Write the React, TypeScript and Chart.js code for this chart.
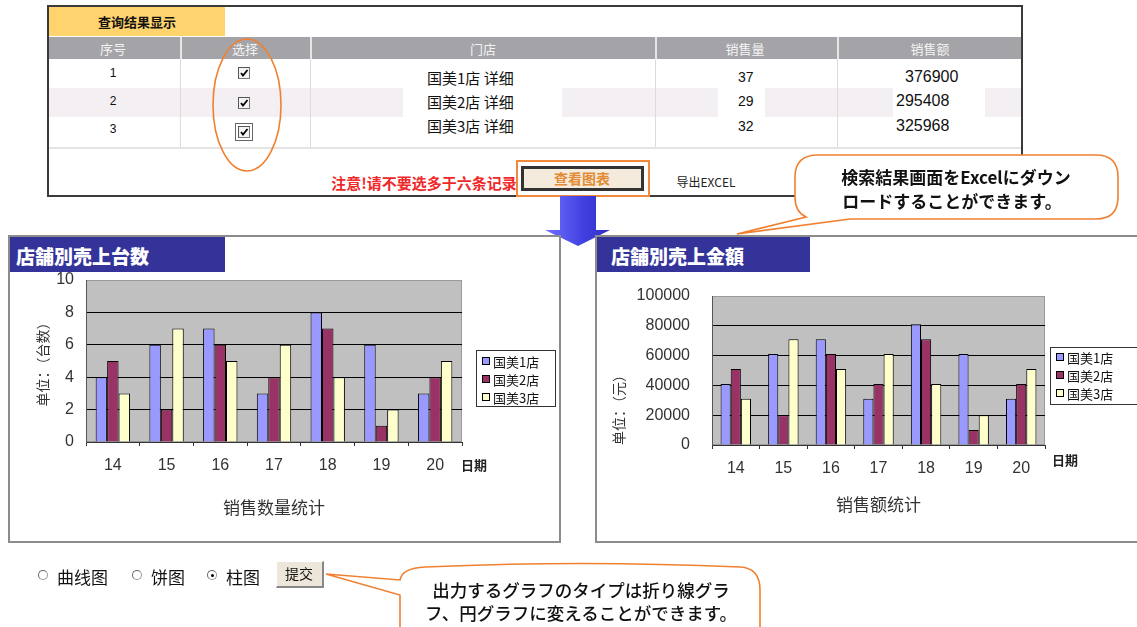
import React, { useEffect, useRef } from "react";
import { Chart, registerables } from "chart.js";
Chart.register(...registerables);

// ---------- data ----------
const DATES = ["14", "15", "16", "17", "18", "19", "20"];
const STORES = ["国美1店", "国美2店", "国美3店"];
const QTY_STORE1 = [4, 6, 7, 3, 8, 6, 3];
const QTY_STORE2 = [5, 2, 6, 4, 7, 1, 4];
const QTY_STORE3 = [3, 7, 5, 6, 4, 2, 5];
const AMT_STORE1 = [41000, 61000, 71000, 31000, 81000, 61000, 31000];
const AMT_STORE2 = [51000, 20000, 61000, 41000, 71000, 10000, 41000];
const AMT_STORE3 = [31000, 71000, 51000, 61000, 41000, 20000, 51000];
const BAR_COLORS = ["#9999FF", "#993366", "#FFFFCC"];

const TABLE_NO = ["1", "2", "3"];
const TABLE_STORE = ["国美1店 详细", "国美2店 详细", "国美3店 详细"];
const TABLE_QTY = ["37", "29", "32"];
const TABLE_AMT = ["376900", "295408", "325968"];
const TABLE_HEADERS = ["序号", "选择", "门店", "销售量", "销售额"];
const CHART_TYPES = ["曲线图", "饼图", "柱图"];

const CJK = '"Noto Sans CJK SC", "Noto Sans CJK JP", sans-serif';
const JP = '"Noto Sans CJK JP", "Noto Sans CJK SC", sans-serif';

// ---------- chart plugin: plot background, border, legend, 日期 ----------
const excelDeco = {
  id: "excelDeco",
  beforeDraw(chart: any) {
    const { ctx, chartArea: a } = chart;
    ctx.save();
    ctx.fillStyle = "#C0C0C0";
    ctx.fillRect(a.left, a.top, a.right - a.left, a.bottom - a.top);
    ctx.strokeStyle = "#9a9a9a";
    ctx.lineWidth = 1;
    ctx.strokeRect(a.left + 0.5, a.top + 0.5, a.right - a.left - 1, a.bottom - a.top - 1);
    ctx.restore();
  },
  afterDraw(chart: any, _args: any, opts: any) {
    const { ctx, chartArea: a } = chart;
    ctx.save();
    const lx = a.right + opts.legend.dx;
    const ly = a.top + opts.legend.dy;
    const lw = opts.legend.w;
    const lh = opts.legend.h;
    ctx.fillStyle = "#fff";
    ctx.fillRect(lx, ly, lw, lh);
    ctx.strokeStyle = "#333";
    ctx.lineWidth = 1;
    ctx.strokeRect(lx + 0.5, ly + 0.5, lw, lh);
    ctx.font = '13px "Noto Sans CJK SC"';
    ctx.textBaseline = "middle";
    ctx.textAlign = "left";
    chart.data.datasets.forEach((ds: any, i: number) => {
      const cy = ly + opts.legend.first + i * opts.legend.step;
      ctx.fillStyle = ds.backgroundColor;
      ctx.fillRect(lx + 6, cy - 4, 8, 8);
      ctx.strokeStyle = "#000";
      ctx.strokeRect(lx + 6.5, cy - 3.5, 7, 7);
      ctx.fillStyle = "#111";
      ctx.fillText(ds.label, lx + 17, cy + 1);
    });
    ctx.font = 'bold 13px "Noto Sans CJK SC"';
    ctx.fillStyle = "#222";
    ctx.fillText(opts.dateText, a.right + opts.date.dx, a.bottom + opts.date.dy);
    ctx.restore();
  },
};

function makeChart(canvas: HTMLCanvasElement, o: any) {
  return new Chart(canvas, {
    type: "bar",
    data: {
      labels: DATES,
      datasets: o.series.map((d: number[], i: number) => ({
        label: STORES[i],
        data: d,
        backgroundColor: BAR_COLORS[i],
        borderColor: "#000",
        borderWidth: 1,
        categoryPercentage: 0.64,
        barPercentage: 1,
      })),
    },
    options: {
      responsive: false,
      animation: false,
      devicePixelRatio: 1,
      layout: { padding: o.padding },
      plugins: {
        legend: { display: false },
        tooltip: { enabled: false },
        excelDeco: { legend: o.legend, date: o.date, dateText: "日期" },
      } as any,
      scales: {
        x: {
          grid: { display: true, drawOnChartArea: false, drawTicks: true, tickLength: 4, color: "#333", offset: true },
          border: { display: true, color: "#333" },
          ticks: { font: { family: "Liberation Sans", size: 16 }, color: "#333", padding: 10 },
          title: {
            display: true,
            text: o.xTitle,
            font: { family: "Noto Sans CJK SC", size: 17 },
            color: "#333",
            padding: { top: 0, bottom: o.xTitlePad },
          },
          afterFit: (s: any) => {
            s.height = o.xH;
          },
        },
        y: {
          min: 0,
          max: o.max,
          ticks: {
            stepSize: o.step,
            font: { family: "Liberation Sans", size: 16 },
            color: "#333",
            padding: o.yTickPad,
            callback: (v: any) => String(v),
          },
          grid: {
            drawTicks: false,
            color: (c: any) => (c.tick && c.tick.value === o.max ? "rgba(0,0,0,0)" : "#000"),
          },
          border: { display: true, color: "#555" },
          title: {
            display: true,
            text: o.yTitle,
            align: o.yAlign,
            font: { family: "Noto Sans CJK SC", size: 14 },
            color: "#333",
            padding: { top: o.yTitlePad, bottom: 0 },
          },
          afterFit: (s: any) => {
            s.width = o.yW;
          },
        },
      },
    },
    plugins: [excelDeco],
  } as any);
}

function BarChart(props: { o: any; left: number; top: number; width: number; height: number }) {
  const ref = useRef<HTMLCanvasElement | null>(null);
  useEffect(() => {
    const c = makeChart(ref.current as HTMLCanvasElement, props.o);
    return () => c.destroy();
  }, []);
  return (
    <canvas
      ref={ref}
      width={props.width}
      height={props.height}
      style={{ position: "absolute", left: props.left, top: props.top, width: props.width, height: props.height }}
    />
  );
}

function T(p: { x: number; y: number; size?: number; color?: string; weight?: any; font?: string; children: any; anchor?: string }) {
  const tx = p.anchor === "left" ? "0" : p.anchor === "right" ? "-100%" : "-50%";
  return (
    <div
      style={{
        position: "absolute",
        left: p.x,
        top: p.y,
        transform: `translate(${tx}, -50%)`,
        fontSize: p.size ?? 13,
        color: p.color ?? "#111",
        fontWeight: p.weight ?? 400,
        fontFamily: p.font ?? CJK,
        whiteSpace: "nowrap",
        lineHeight: 1,
      }}
    >
      {p.children}
    </div>
  );
}

function Box(p: { x: number; y: number; w: number; h: number; style?: any; children?: any }) {
  return <div style={{ position: "absolute", left: p.x, top: p.y, width: p.w, height: p.h, boxSizing: "border-box", ...p.style }}>{p.children}</div>;
}

function CheckBox(p: { x: number; y: number; focus?: boolean }) {
  return (
    <>
      {p.focus && <Box x={p.x - 9} y={p.y - 9} w={18} h={18} style={{ border: "1px solid #666" }} />}
      <Box x={p.x - 6} y={p.y - 6} w={12} h={12} style={{ border: "1px solid #777", borderTopColor: "#555", borderLeftColor: "#555", background: "#f4f4f4" }}>
        <svg width="10" height="10" style={{ position: "absolute", left: 0, top: 0 }}>
          <path d="M2 5 L4 7.5 L8.5 2" stroke="#000" strokeWidth="1.8" fill="none" />
        </svg>
      </Box>
    </>
  );
}

const qtyOpts = {
  series: [QTY_STORE1, QTY_STORE2, QTY_STORE3],
  max: 10,
  step: 2,
  padding: { top: 43, right: 97, left: 0, bottom: 0 },
  yW: 76,
  xH: 99,
  yTickPad: 12,
  xTitle: "销售数量统计",
  xTitlePad: 23,
  yTitle: "单位：（台数）",
  yTitlePad: 24,
  yAlign: "center",
  legend: { dx: 14, dy: 70, w: 79, h: 56, first: 11, step: 18 },
  date: { dx: -1, dy: 23 },
};

const amtOpts = {
  series: [AMT_STORE1, AMT_STORE2, AMT_STORE3],
  max: 100000,
  step: 20000,
  padding: { top: 59, right: 92, left: 0, bottom: 0 },
  yW: 115,
  xH: 96,
  yTickPad: 22,
  xTitle: "销售额统计",
  xTitlePad: 26,
  yTitle: "单位：（元）",
  yTitlePad: 13,
  yAlign: "start",
  legend: { dx: 5, dy: 51, w: 87, h: 57, first: 10, step: 18 },
  date: { dx: 7, dy: 15 },
};

const COLS = [113, 245, 483, 745, 930];
const DIVS = [180, 310, 655, 837];
const ROW_Y = [73, 101, 129];
const STORE_Y = [77, 101, 125];

export default function App() {
  return (
    <div style={{ position: "absolute", left: 0, top: 0, width: 1137, height: 627, overflow: "hidden", background: "#fff", fontFamily: CJK }}>
      {/* ---------- results table ---------- */}
      <Box x={47} y={5} w={976} h={192} style={{ border: "2px solid #3a3a3a" }} />
      <Box x={49} y={7} w={176} h={29} style={{ background: "#FFD36E" }} />
      <T x={137} y={21} size={13} weight={700}>查询结果显示</T>
      <Box x={49} y={37} w={972} h={22} style={{ background: "#A4A3A7" }} />
      {DIVS.map((x) => (
        <Box key={"hd" + x} x={x} y={37} w={2} h={22} style={{ background: "#e6e6e6" }} />
      ))}
      {TABLE_HEADERS.map((h, i) => (
        <T key={h} x={COLS[i]} y={48} size={13} color="#f4f4f4">{h}</T>
      ))}
      <Box x={49} y={88} w={354} h={29} style={{ background: "#F3EFF2" }} />
      <Box x={562} y={88} w={156} h={29} style={{ background: "#F3EFF2" }} />
      <Box x={765} y={88} w={128} h={29} style={{ background: "#F3EFF2" }} />
      <Box x={985} y={88} w={36} h={29} style={{ background: "#F3EFF2" }} />
      {DIVS.map((x) => (
        <Box key={"bd" + x} x={x} y={59} w={1} h={89} style={{ background: "#dcdcdc" }} />
      ))}
      <Box x={49} y={147} w={972} h={2} style={{ background: "#e4e4e4" }} />
      {TABLE_NO.map((n, i) => (
        <T key={"n" + n} x={113} y={ROW_Y[i]} size={12} font="Liberation Sans">{n}</T>
      ))}
      <CheckBox x={244} y={73} />
      <CheckBox x={244} y={103} />
      <CheckBox x={244} y={132} focus />
      {TABLE_STORE.map((s, i) => (
        <T key={s} x={427} y={STORE_Y[i]} size={15} anchor="left">{s}</T>
      ))}
      {TABLE_QTY.map((q, i) => (
        <T key={"q" + i} x={738} y={STORE_Y[i] + (i === 2 ? 1 : 0)} size={14} font="Liberation Sans" anchor="left">{q}</T>
      ))}
      {TABLE_AMT.map((q, i) => (
        <T key={"a" + i} x={i === 0 ? 905 : 896} y={STORE_Y[i] + (i === 2 ? 1 : 0)} size={16} font="Liberation Sans" anchor="left">{q}</T>
      ))}
      <T x={424} y={182} size={15} color="#F0282A" weight={700}>注意!请不要选多于六条记录</T>
      <Box x={516} y={160} w={134} h={37} style={{ border: "2px solid #F08A3A", background: "#fff" }} />
      <Box x={521} y={166} w={123} h={25} style={{ border: "3px solid #333", background: "#F4EBDC" }} />
      <T x={582} y={178} size={14} color="#E48B35" weight={700}>查看图表</T>
      <T x={706} y={182} size={12} color="#222">导出EXCEL</T>

      {/* ---------- arrow ---------- */}
      <div
        style={{
          position: "absolute",
          left: 545,
          top: 196,
          width: 65,
          height: 50,
          background: "linear-gradient(90deg, #7070FF, #4040E0 60%, #3030C0)",
          clipPath: "polygon(15px 0, 51px 0, 51px 34px, 65px 34px, 33px 50px, 0 34px, 15px 34px)",
        }}
      />

      {/* ---------- chart 1 ---------- */}
      <Box x={8} y={235} w={553} h={308} style={{ border: "2px solid #8c8c8c" }} />
      <BarChart o={qtyOpts} left={10} top={237} width={549} height={304} />
      <Box x={10} y={237} w={215} h={35} style={{ background: "#333399" }} />
      <T x={16} y={255} size={19} weight={900} color="#fff" font={JP} anchor="left">店舗別売上台数</T>

      {/* ---------- chart 2 ---------- */}
      <Box x={595} y={235} w={560} h={308} style={{ border: "2px solid #8c8c8c" }} />
      <BarChart o={amtOpts} left={597} top={237} width={540} height={304} />
      <Box x={597} y={237} w={213} h={35} style={{ background: "#333399" }} />
      <T x={611} y={255} size={19} weight={900} color="#fff" font={JP} anchor="left">店舗別売上金額</T>

      {/* ---------- callouts ---------- */}
      <svg width="1137" height="627" style={{ position: "absolute", left: 0, top: 0, pointerEvents: "none" }}>
        <path
          d="M818 155 H1096 Q1118 155 1118 177 V197 Q1118 219 1096 219 H850 L737 234 L806 217 Q795 212 795 197 V177 Q795 155 818 155 Z"
          fill="#fff"
          stroke="#F08030"
          strokeWidth="1.6"
        />
        <ellipse cx="247" cy="105" rx="34" ry="66" fill="none" stroke="#F08030" strokeWidth="1.6" />
        <path
          d="M425 567 Q580 560 740 567 Q760 568 760 590 V640 H400 V595 L326 574 L400 580 Q402 568 425 567 Z"
          fill="#fff"
          stroke="#F08030"
          strokeWidth="1.6"
        />
      </svg>
      <T x={956} y={176} size={17} weight={700} font={JP}>検索結果画面をExcelにダウン</T>
      <T x={952} y={200} size={17} weight={700} font={JP}>ロードすることができます。</T>
      <T x={581} y={590} size={17.5} weight={500} font={JP}>出力するグラフのタイプは折り線グラ</T>
      <T x={581} y={613} size={17.5} weight={500} font={JP}>フ、円グラフに変えることができます。</T>

      {/* ---------- chart type selector ---------- */}
      {CHART_TYPES.map((t, i) => {
        const rx = [43, 137, 212][i];
        return (
          <React.Fragment key={t}>
            <Box x={rx - 5} y={570} w={10} h={10} style={{ borderRadius: "50%", border: "1px solid #999", borderTopColor: "#666", borderLeftColor: "#666", background: "#fff" }} />
            {i === 2 && <Box x={rx - 1.5} y={573.5} w={3} h={3} style={{ borderRadius: "50%", background: "#000" }} />}
            <T x={rx + 14} y={576} size={17} anchor="left">{t}</T>
          </React.Fragment>
        );
      })}
      <Box x={276} y={561} w={48} h={27} style={{ background: "#ECE7DA", borderTop: "1px solid #fff", borderLeft: "1px solid #fff", borderRight: "2px solid #888", borderBottom: "2px solid #888" }} />
      <T x={299} y={573} size={14}>提交</T>
    </div>
  );
}
